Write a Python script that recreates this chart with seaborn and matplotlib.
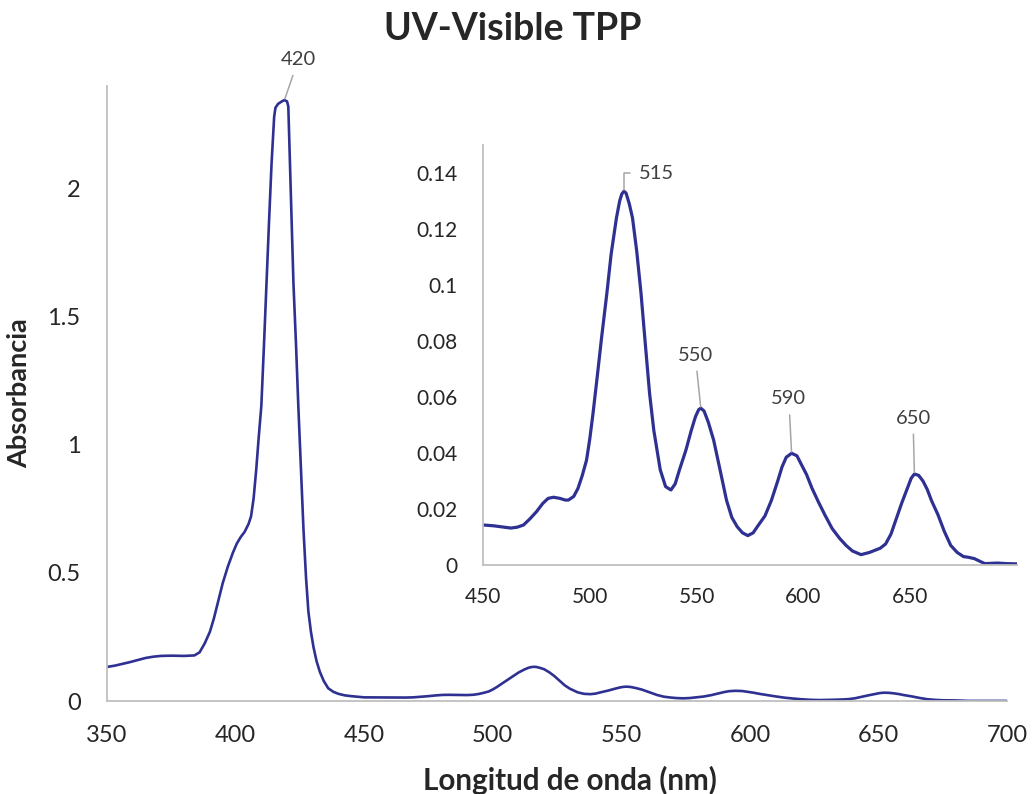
import matplotlib
matplotlib.use('Agg')
import matplotlib.pyplot as plt
import seaborn as sns
import pandas as pd

# UV-Vis spectrum of TPP
wavelength = [350, 353, 356, 359, 362, 365, 368, 371, 375, 380, 384, 386, 388,
              390, 391.5, 393, 395, 397, 399, 400.5, 402, 403.5, 405, 406, 407,
              408, 409, 410, 411, 412, 413, 414, 415, 415.5, 416.5, 418, 419,
              420, 420.5, 421, 421.7, 422.5, 423.5, 424.4, 425.4, 426.4, 427.4,
              428.3, 429.3, 430.3, 431.5, 432.8, 434.3, 436, 438, 440, 442.5, 445,
              450, 455, 459, 463, 466, 469, 472, 475, 478, 480.5, 483, 486, 488.5,
              490, 492.5, 494.5, 496.5, 498.5, 500, 501.5, 503.5, 505.5, 508, 510,
              512.5, 514, 515, 516, 517, 518.5, 520, 522, 524, 526, 528, 530, 533,
              535.5, 538, 540, 542, 545, 547.5, 549.5, 551, 552, 553.5, 555.5, 558,
              561, 564, 566.5, 569, 571.5, 574, 576.5, 579, 582, 585, 588, 590,
              592, 594.5, 597, 599, 601.5, 604, 607, 610, 613.5, 617, 620, 623,
              627, 631, 636, 638.5, 641, 643.5, 646, 648.5, 650.5, 652, 654, 656,
              658, 660, 663, 666, 669, 672, 675, 677, 680, 683, 685, 688, 691, 695,
              700]
absorbance = [0.133, 0.138, 0.145, 0.152, 0.160, 0.168, 0.173, 0.176, 0.177, 0.176,
              0.178, 0.19, 0.225, 0.27, 0.32, 0.38, 0.46, 0.525, 0.58, 0.615, 0.64,
              0.66, 0.69, 0.72, 0.79, 0.90, 1.03, 1.15, 1.38, 1.63, 1.87, 2.10, 2.28,
              2.315, 2.33, 2.34, 2.345, 2.34, 2.32, 2.15, 1.9, 1.63, 1.39, 1.15, 0.91,
              0.67, 0.48, 0.35, 0.27, 0.21, 0.155, 0.113, 0.078, 0.05, 0.036, 0.028,
              0.022, 0.019, 0.0143, 0.014, 0.0136, 0.0132, 0.0135, 0.0143, 0.0165,
              0.019, 0.022, 0.0238, 0.0242, 0.0238, 0.0232, 0.0232, 0.0245, 0.0274,
              0.032, 0.0375, 0.045, 0.054, 0.0673, 0.081, 0.097, 0.111, 0.124, 0.130,
              0.1325, 0.1335, 0.1328, 0.129, 0.124, 0.112, 0.097, 0.079, 0.0613,
              0.048, 0.034, 0.028, 0.0268, 0.029, 0.034, 0.041, 0.048, 0.053, 0.0555,
              0.056, 0.055, 0.051, 0.0446, 0.034, 0.0232, 0.017, 0.0137, 0.0115,
              0.0105, 0.0115, 0.0143, 0.0175, 0.023, 0.030, 0.035, 0.0385, 0.0399,
              0.039, 0.036, 0.0323, 0.0275, 0.0226, 0.018, 0.013, 0.0095, 0.007,
              0.005, 0.0037, 0.0045, 0.006, 0.0075, 0.011, 0.0165, 0.022, 0.027,
              0.031, 0.0325, 0.032, 0.030, 0.027, 0.023, 0.018, 0.012, 0.007, 0.0045,
              0.003, 0.0028, 0.0023, 0.0012, 0.0005, 0.0006, 0.0007, 0.0005, 0.0004]

main_ticks_x = [350, 400, 450, 500, 550, 600, 650, 700]
main_ticks_y = [0, 0.5, 1, 1.5, 2]
inset_ticks_x = [450, 500, 550, 600, 650]
inset_ticks_y = [0, 0.02, 0.04, 0.06, 0.08, 0.1, 0.12, 0.14]

# peaks to label: wavelength on the curve and the label shown
main_peak = (419, '420')
inset_peaks = [516, 552, 594.5, 652]
inset_peak_labels = ['515', '550', '590', '650']

df = pd.DataFrame({'wl': wavelength, 'abs': absorbance})
lookup = dict(zip(wavelength, absorbance))

sns.set_style('white')
plt.rcParams['font.family'] = ['Lato', 'DejaVu Sans']

line_color = '#2e3192'
spine_color = '#bfbfbf'
label_color = '#404040'
leader_color = '#a6a6a6'

fig = plt.figure(figsize=(10.32, 7.94), dpi=100)

# Main chart
ax = fig.add_axes([0.1037, 0.1171, 0.8721, 0.7746])
sns.lineplot(data=df, x='wl', y='abs', ax=ax, color=line_color, linewidth=1.9)
ax.set_xlim(350, 700)
ax.set_ylim(0, 2.4)
ax.set_xticks(main_ticks_x)
ax.set_yticks(main_ticks_y)
ax.set_yticklabels(['0', '0.5', '1', '1.5', '2'])
ax.tick_params(axis='both', length=0, labelsize=17)
ax.tick_params(axis='x', pad=17)
ax.tick_params(axis='y', pad=19)
for side in ['top', 'right']:
    ax.spines[side].set_visible(False)
for side in ['left', 'bottom']:
    ax.spines[side].set_color(spine_color)
    ax.spines[side].set_linewidth(1.3)
ax.set_xlabel('Longitud de onda (nm)', fontsize=21.3, fontweight='bold')
ax.xaxis.set_label_coords(0.514, -0.106)
ax.set_ylabel('Absorbancia', fontsize=19.5, fontweight='bold', labelpad=12)

ax.annotate(main_peak[1], xy=(main_peak[0], lookup[main_peak[0]]),
            xytext=(10, 23), textcoords='offset points', ha='center', va='bottom',
            fontsize=14.5, color=label_color, annotation_clip=False,
            arrowprops=dict(arrowstyle='-', color=leader_color, lw=1.1,
                            shrinkA=3, shrinkB=1))

fig.suptitle('UV-Visible TPP', fontsize=27, fontweight='bold', x=0.497, y=0.985)

# Inset zoom on the Q bands
axin = fig.add_axes([0.468, 0.2884, 0.5174, 0.529])
sns.lineplot(data=df[df['wl'] >= 450], x='wl', y='abs', ax=axin,
             color=line_color, linewidth=2.3)
axin.set_xlim(450, 700)
axin.set_ylim(0, 0.15)
axin.set_xticks(inset_ticks_x)
axin.set_yticks(inset_ticks_y)
axin.set_yticklabels(['0', '0.02', '0.04', '0.06', '0.08', '0.1', '0.12', '0.14'])
axin.tick_params(axis='both', length=0, labelsize=15)
axin.tick_params(axis='x', pad=16)
axin.tick_params(axis='y', pad=18)
axin.set_xlabel('')
axin.set_ylabel('')
for side in ['top', 'right']:
    axin.spines[side].set_visible(False)
for side in ['left', 'bottom']:
    axin.spines[side].set_color(spine_color)
    axin.spines[side].set_linewidth(1.3)

offsets = [(11, 13), (-4, 32), (-2, 33), (-1, 34)]
for wl, text, off in zip(inset_peaks, inset_peak_labels, offsets):
    if text == '515':
        axin.annotate(text, xy=(wl, lookup[wl]), xytext=off, textcoords='offset points',
                      ha='left', va='center', fontsize=14.5, color=label_color,
                      arrowprops=dict(arrowstyle='-', color=leader_color, lw=1.1,
                                      connectionstyle='angle,angleA=0,angleB=90,rad=0',
                                      shrinkA=4, shrinkB=1))
    else:
        axin.annotate(text, xy=(wl, lookup[wl]), xytext=off, textcoords='offset points',
                      ha='center', va='bottom', fontsize=14.5, color=label_color,
                      arrowprops=dict(arrowstyle='-', color=leader_color, lw=1.1,
                                      shrinkA=3, shrinkB=1))

fig.savefig('out.png', dpi=100)
